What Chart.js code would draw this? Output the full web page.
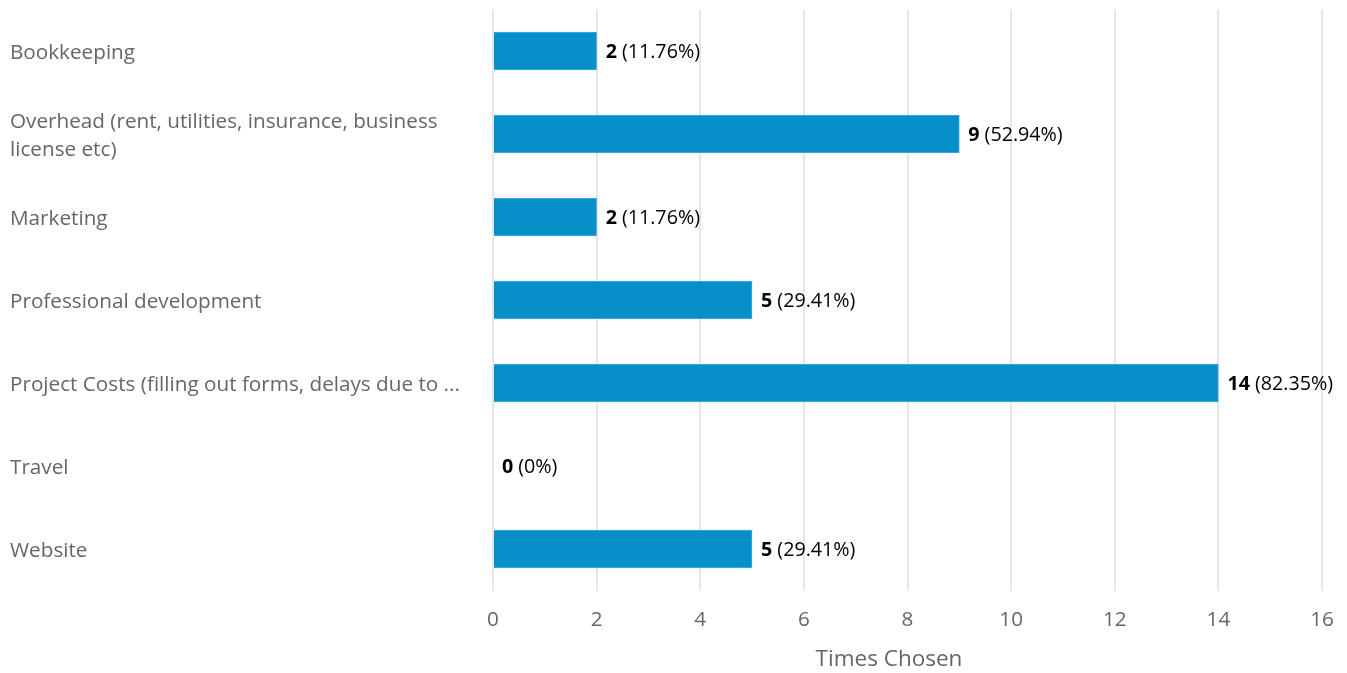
<!DOCTYPE html>
<html>
<head>
<meta charset="utf-8">
<script src="https://cdn.jsdelivr.net/npm/chart.js@4/dist/chart.umd.min.js"></script>
<style>
  html, body { margin: 0; padding: 0; background: #ffffff; }
  #wrap { width: 1347px; height: 673px; position: relative; }
</style>
</head>
<body>
<div id="wrap"><canvas id="c"></canvas></div>
<script>
// Survey answers: how often each cost category was chosen
const categories = [
  'Bookkeeping',
  ['Overhead (rent, utilities, insurance, business', 'license etc)'],
  'Marketing',
  'Professional development',
  'Project Costs (filling out forms, delays due to ...',
  'Travel',
  'Website'
];
const timesChosen = [2, 9, 2, 5, 14, 0, 5];
const shareLabels = ['11.76%', '52.94%', '11.76%', '29.41%', '82.35%', '0%', '29.41%'];
const xTicks = [0, 2, 4, 6, 8, 10, 12, 14, 16];
const axisTitle = 'Times Chosen';

const FONT = "'Open Sans', 'Noto Sans', sans-serif";
const GREY = '#666666';

// Writes "count (share)" just past the end of each bar, plus the axis caption
const valueLabels = {
  id: 'valueLabels',
  afterDatasetsDraw(chart) {
    const ctx = chart.ctx;
    const meta = chart.getDatasetMeta(0);
    const xs = chart.scales.x;
    ctx.save();
    ctx.textBaseline = 'middle';
    ctx.textAlign = 'left';
    meta.data.forEach((bar, i) => {
      const end = xs.getPixelForValue(timesChosen[i]);
      let x = end + 9;
      const y = bar.y + 1;
      ctx.fillStyle = '#000000';
      ctx.font = 'bold 19.7px ' + FONT;
      const countText = String(timesChosen[i]);
      ctx.fillText(countText, x, y);
      x += ctx.measureText(countText).width + 5;
      ctx.font = '19.7px ' + FONT;
      ctx.fillText('(' + shareLabels[i] + ')', x, y);
    });
    ctx.fillStyle = GREY;
    ctx.font = '22.5px ' + FONT;
    ctx.textAlign = 'center';
    ctx.textBaseline = 'alphabetic';
    ctx.fillText(axisTitle, 889, 666);
    ctx.restore();
  }
};

new Chart(document.getElementById('c'), {
  type: 'bar',
  data: {
    labels: categories,
    datasets: [{
      data: timesChosen,
      backgroundColor: '#068fc8',
      borderColor: '#45b0e0',
      borderWidth: 1,
      borderSkipped: 'start',
      barThickness: 38
    }]
  },
  options: {
    indexAxis: 'y',
    responsive: true,
    maintainAspectRatio: false,
    animation: false,
    layout: { padding: { top: 9.5, right: 25, bottom: 0, left: 10 } },
    plugins: {
      legend: { display: false },
      tooltip: { enabled: false }
    },
    scales: {
      x: {
        type: 'linear',
        min: 0,
        max: 16,
        afterBuildTicks(scale) { scale.ticks = xTicks.map(v => ({ value: v })); },
        afterFit(scale) {
          scale.height = 82.5;
          scale.paddingLeft = 0;
          scale.paddingRight = 0;
        },
        grid: { color: '#e6e6e6', lineWidth: 2, drawTicks: false },
        border: { display: false },
        ticks: {
          color: GREY,
          padding: 17.5,
          font: { family: FONT, size: 20.7 }
        },
        title: { display: false }
      },
      y: {
        afterFit(scale) {
          scale.width = 483;
          scale.paddingTop = 0;
          scale.paddingBottom = 0;
        },
        grid: { display: false, drawTicks: false },
        border: { display: false },
        ticks: {
          crossAlign: 'far',
          color: GREY,
          padding: 0,
          labelOffset: 2,
          font: { family: FONT, size: 20.7, lineHeight: 1.38 }
        }
      }
    }
  },
  plugins: [valueLabels]
});
</script>
</body>
</html>
